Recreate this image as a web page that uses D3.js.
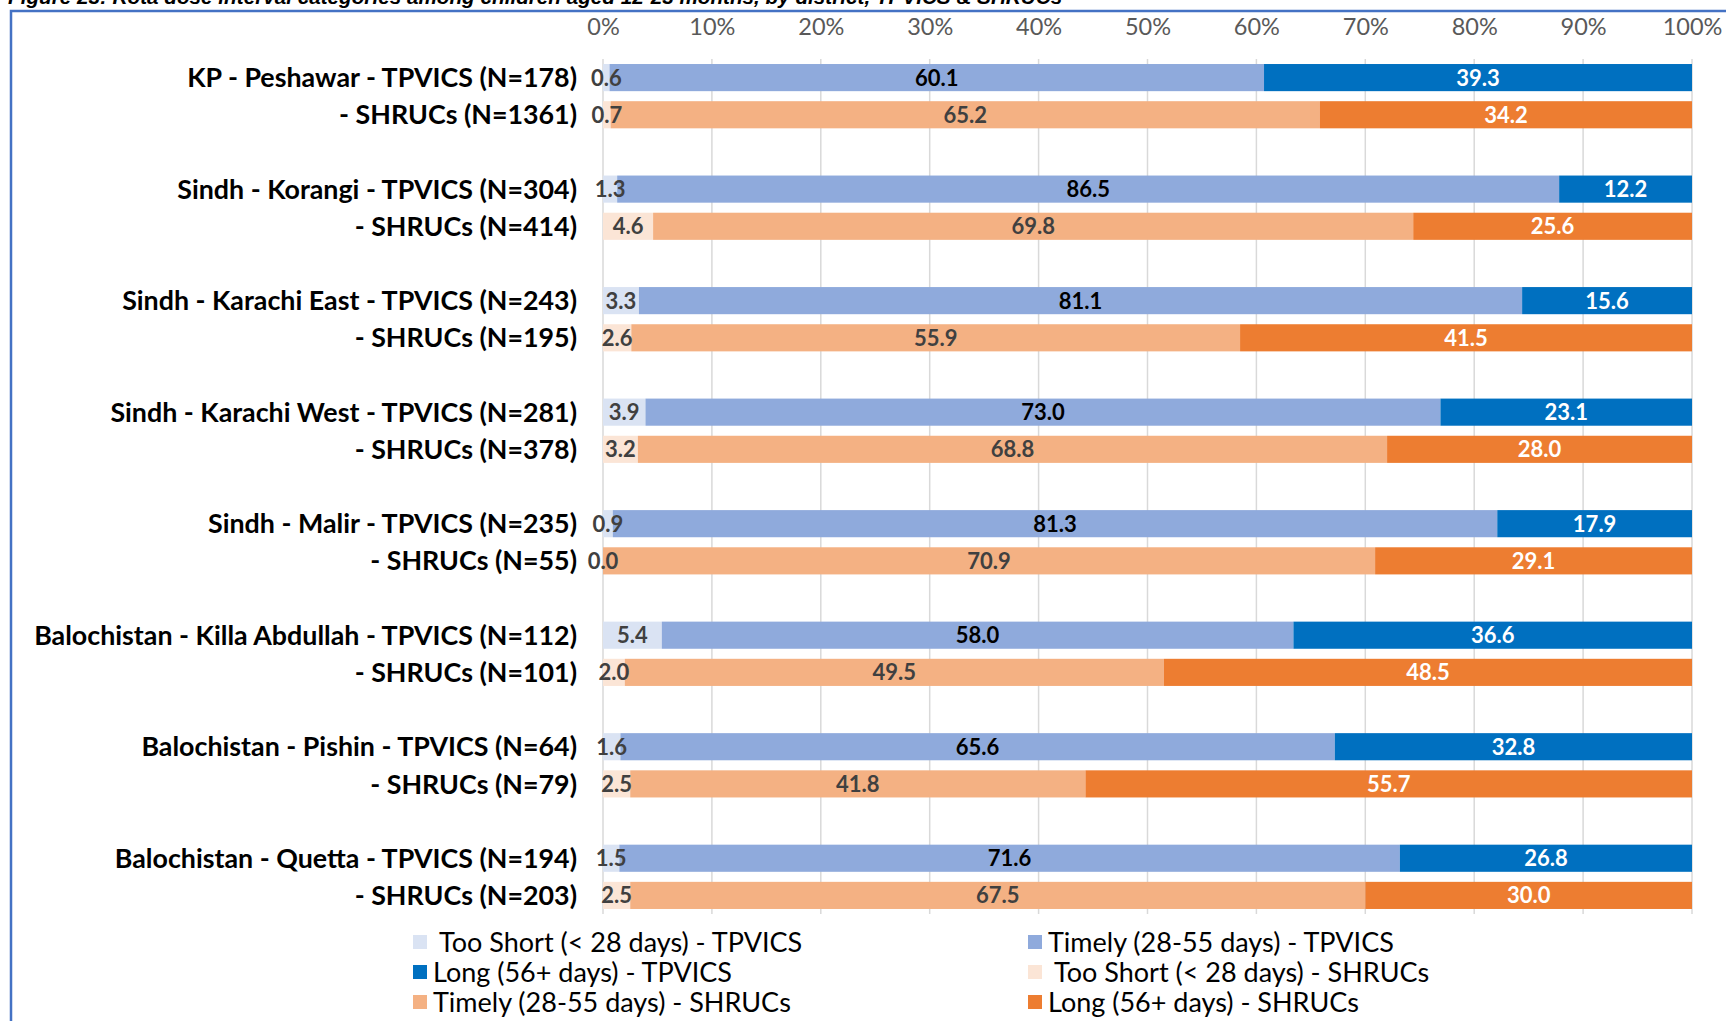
<!DOCTYPE html>
<html>
<head>
<meta charset="utf-8">
<script src="https://cdn.jsdelivr.net/npm/d3@7"></script>
<style>
  body { margin: 0; background: #fff; }
  svg { display: block; }
</style>
</head>
<body>
<svg id="chart" width="1726" height="1021"></svg>
<script>
// Rota dose interval categories by district, TPVICS vs SHRUCs (percent)
const districts = [
  "KP - Peshawar",
  "Sindh - Korangi",
  "Sindh - Karachi East",
  "Sindh - Karachi West",
  "Sindh - Malir",
  "Balochistan - Killa Abdullah",
  "Balochistan - Pishin",
  "Balochistan - Quetta"
];
const tpvicsN = [178, 304, 243, 281, 235, 112, 64, 194];
const shrucsN = [1361, 414, 195, 378, 55, 101, 79, 203];

const tpvicsTooShort = [0.6, 1.3, 3.3, 3.9, 0.9, 5.4, 1.6, 1.5];
const tpvicsTimely   = [60.1, 86.5, 81.1, 73.0, 81.3, 58.0, 65.6, 71.6];
const tpvicsLong     = [39.3, 12.2, 15.6, 23.1, 17.9, 36.6, 32.8, 26.8];

const shrucsTooShort = [0.7, 4.6, 2.6, 3.2, 0.0, 2.0, 2.5, 2.5];
const shrucsTimely   = [65.2, 69.8, 55.9, 68.8, 70.9, 49.5, 41.8, 67.5];
const shrucsLong     = [34.2, 25.6, 41.5, 28.0, 29.1, 48.5, 55.7, 30.0];

const tickValues = [0, 10, 20, 30, 40, 50, 60, 70, 80, 90, 100];

const legendLabels = [
  " Too Short (< 28 days) - TPVICS",
  "Timely (28-55 days) - TPVICS",
  "Long (56+ days) - TPVICS",
  " Too Short (< 28 days) - SHRUCs",
  "Timely (28-55 days) - SHRUCs",
  "Long (56+ days) - SHRUCs"
];

const titleText = "Figure 23: Rota dose interval categories among children aged 12-23 months, by district, TPVICS & SHRUCs";

// Palettes per survey: too short, timely, long
const fills = {
  TPVICS: ["#DAE3F3", "#8FAADC", "#0070C0"],
  SHRUCs: ["#FBE5D6", "#F4B183", "#ED7D31"]
};
const labelColors = {
  TPVICS: ["#404040", "#000000", "#FFFFFF"],
  SHRUCs: ["#404040", "#404040", "#FFFFFF"]
};
const legendFills = [
  fills.TPVICS[0], fills.TPVICS[1], fills.TPVICS[2],
  fills.SHRUCs[0], fills.SHRUCs[1], fills.SHRUCs[2]
];

// Build category rows: TPVICS, SHRUCs, then an empty spacer between districts
const rows = [];
districts.forEach((d, i) => {
  rows.push({ key: "t" + i, survey: "TPVICS", label: `${d} - TPVICS (N=${tpvicsN[i]})`,
              values: [tpvicsTooShort[i], tpvicsTimely[i], tpvicsLong[i]] });
  rows.push({ key: "s" + i, survey: "SHRUCs", label: `- SHRUCs (N=${shrucsN[i]})`,
              values: [shrucsTooShort[i], shrucsTimely[i], shrucsLong[i]] });
  if (i < districts.length - 1) rows.push({ key: "gap" + i, spacer: true });
});
const barRows = rows.filter(r => !r.spacer);

const svg = d3.select("#chart");
svg.style("font-family", "Lato, 'Open Sans', sans-serif");

const x = d3.scaleLinear().domain([0, 100]).range([603, 1692]);
const y = d3.scaleBand()
  .domain(rows.map(r => r.key))
  .range([59, 914])
  .paddingInner(0.27)
  .paddingOuter(0.135);

// Caption (sits above the frame)
svg.append("text")
  .attr("x", 8).attr("y", 4)
  .attr("font-family", "'Liberation Sans', Arial, sans-serif")
  .attr("font-weight", "bold").attr("font-style", "italic")
  .attr("font-size", 20.7).attr("fill", "#000")
  .text(titleText);

// Frame
svg.append("path")
  .attr("d", "M11,1021 V11 H1726")
  .attr("fill", "none").attr("stroke", "#4472C4").attr("stroke-width", 2.5);

// Vertical gridlines
svg.append("g")
  .selectAll("line").data(tickValues).join("line")
  .attr("x1", d => x(d)).attr("x2", d => x(d))
  .attr("y1", 59).attr("y2", 914)
  .attr("stroke", "#D9D9D9").attr("stroke-width", 1.5);

// Top percentage axis
const axis = svg.append("g")
  .attr("transform", "translate(0,35)")
  .call(d3.axisTop(x).tickValues(tickValues).tickFormat(d => d + "%").tickSize(0).tickPadding(0));
axis.select(".domain").remove();
axis.selectAll("text")
  .attr("font-family", "Lato, sans-serif")
  .attr("font-size", 23.5).attr("fill", "#595959");

// Stacked 100% bars
const rowG = svg.append("g").selectAll("g").data(barRows).join("g");

rowG.each(function (r) {
  const total = d3.sum(r.values);
  const pct = r.values.map(v => v / total * 100);
  const ends = d3.cumsum(pct);
  const segs = pct.map((p, k) => ({ k, v: r.values[k], x0: ends[k] - p, x1: ends[k] }));
  const g = d3.select(this);
  g.selectAll("rect").data(segs).join("rect")
    .attr("x", s => x(s.x0))
    .attr("width", s => x(s.x1) - x(s.x0))
    .attr("y", y(r.key))
    .attr("height", y.bandwidth())
    .attr("fill", s => fills[r.survey][s.k]);
  g.selectAll("text").data(segs).join("text")
    .attr("x", s => (x(s.x0) + x(s.x1)) / 2)
    .attr("y", y(r.key) + y.bandwidth() / 2)
    .attr("dy", "0.36em")
    .attr("text-anchor", "middle")
    .attr("font-weight", "bold")
    .attr("font-size", 22)
    .attr("fill", s => labelColors[r.survey][s.k])
    .text(s => d3.format(".1f")(s.v));
});

// Category labels
svg.append("g").selectAll("text").data(barRows).join("text")
  .attr("x", 577)
  .attr("y", r => y(r.key) + y.bandwidth() / 2)
  .attr("dy", "0.36em")
  .attr("text-anchor", "end")
  .attr("font-weight", "bold")
  .attr("font-size", 26.8)
  .attr("fill", "#000")
  .text(r => r.label);

// Legend: two columns, three rows
const legendCols = [420, 1035];
const legendRows = [942, 972, 1002];
const lg = svg.append("g").selectAll("g").data(legendLabels).join("g")
  .attr("transform", (d, i) => `translate(${legendCols[i % 2]},${legendRows[Math.floor(i / 2)]})`);
lg.append("rect")
  .attr("x", -7).attr("y", -7).attr("width", 14).attr("height", 14)
  .attr("fill", (d, i) => legendFills[i]);
lg.append("text")
  .attr("x", 13).attr("dy", "0.36em")
  .attr("font-size", 27).attr("fill", "#000")
  .attr("xml:space", "preserve")
  .style("white-space", "pre")
  .text(d => d);
</script>
</body>
</html>
